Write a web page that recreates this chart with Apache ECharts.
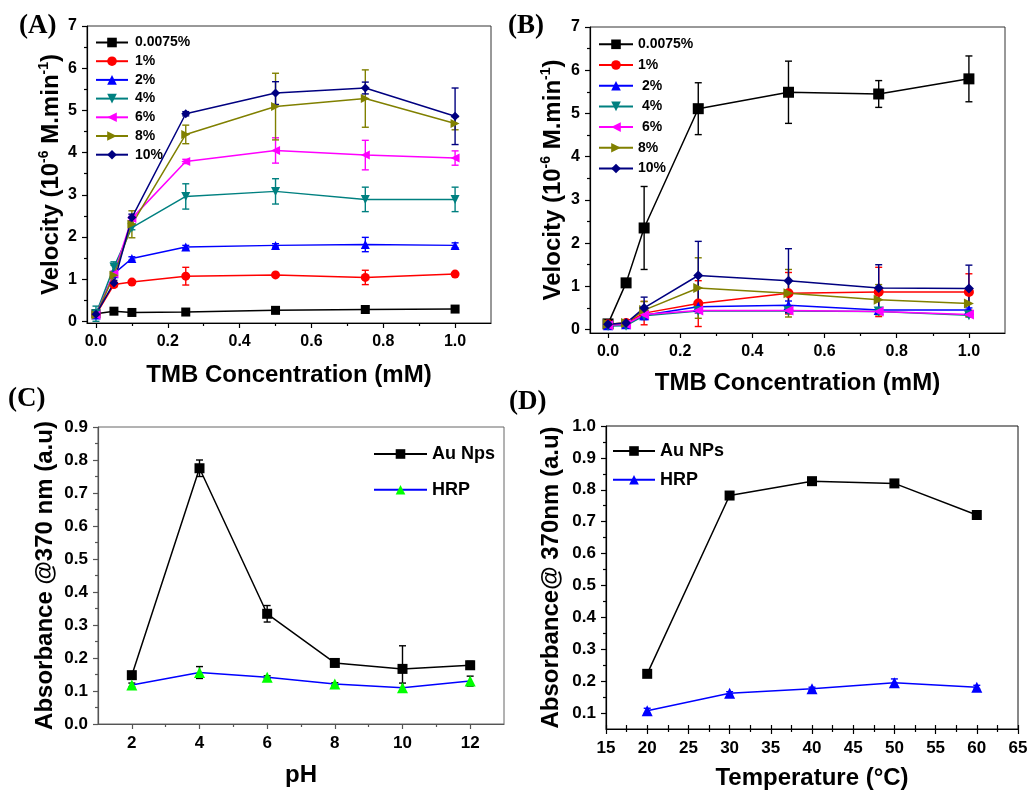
<!DOCTYPE html>
<html><head><meta charset="utf-8">
<script src="https://cdn.jsdelivr.net/npm/echarts@6/dist/echarts.min.js"></script>
<style>html,body{margin:0;padding:0;background:#fff}#c{width:1031px;height:792px}</style>
</head><body><div id="c"></div><script>
// ---------------- DATA ----------------
const xConc = [0, 0.05, 0.1, 0.25, 0.5, 0.75, 1.0];
const aNames = ['0.0075%', '1%', '2%', '4%', '6%', '8%', '10%'];
const bNames = ['0.0075%', '1%', ' 2%', ' 4%', ' 6%', '8%', '10%'];
// Panel A values and errors
const aV0075 = [0.18, 0.24, 0.21, 0.22, 0.26, 0.28, 0.29];
const aE0075 = [0.04, 0.07, 0.03, 0.03, 0.05, 0.06, 0.04];
const aV1 = [0.16, 0.87, 0.93, 1.07, 1.10, 1.04, 1.12];
const aE1 = [0.03, 0.05, 0.03, 0.21, 0.03, 0.17, 0.03];
const aV2 = [0.15, 1.13, 1.49, 1.76, 1.80, 1.82, 1.80];
const aE2 = [0.03, 0.05, 0.04, 0.04, 0.04, 0.17, 0.06];
const aV4 = [0.18, 1.29, 2.22, 2.96, 3.08, 2.89, 2.89];
const aE4 = [0.18, 0.12, 0.05, 0.30, 0.30, 0.29, 0.29];
const aV6 = [0.15, 1.13, 2.44, 3.79, 4.05, 3.94, 3.87];
const aE6 = [0.03, 0.06, 0.05, 0.05, 0.30, 0.35, 0.17];
const aV8 = [0.15, 1.09, 2.30, 4.43, 5.09, 5.28, 4.69];
const aE8 = [0.03, 0.24, 0.32, 0.22, 0.79, 0.68, 0.15];
const aV10 = [0.17, 0.91, 2.46, 4.92, 5.41, 5.53, 4.86];
const aE10 = [0.03, 0.06, 0.08, 0.05, 0.27, 0.14, 0.67];
// Panel B values and errors
const bV0075 = [0.13, 1.08, 2.35, 5.11, 5.49, 5.45, 5.80];
const bE0075 = [0.05, 0.05, 0.96, 0.60, 0.72, 0.31, 0.53];
const bV1 = [0.12, 0.15, 0.38, 0.60, 0.84, 0.87, 0.87];
const bE1 = [0.04, 0.05, 0.27, 0.53, 0.48, 0.57, 0.42];
const bV2 = [0.10, 0.12, 0.33, 0.53, 0.56, 0.45, 0.45];
const bE2 = [0.03, 0.04, 0.10, 0.08, 0.10, 0.05, 0.05];
const bV4 = [0.08, 0.09, 0.32, 0.43, 0.43, 0.42, 0.33];
const bE4 = [0.03, 0.04, 0.08, 0.05, 0.05, 0.05, 0.04];
const bV6 = [0.10, 0.12, 0.35, 0.44, 0.44, 0.42, 0.35];
const bE6 = [0.03, 0.04, 0.08, 0.05, 0.05, 0.05, 0.04];
const bV8 = [0.13, 0.15, 0.45, 0.96, 0.84, 0.69, 0.60];
const bE8 = [0.04, 0.05, 0.20, 0.70, 0.55, 0.35, 0.30];
const bV10 = [0.12, 0.15, 0.50, 1.25, 1.13, 0.96, 0.95];
const bE10 = [0.04, 0.05, 0.25, 0.79, 0.74, 0.54, 0.54];
// Panel C
const xPH = [2, 4, 6, 8, 10, 12];
const cNames = ['Au Nps', 'HRP'];
const cAu = [0.148, 0.775, 0.334, 0.185, 0.167, 0.178];
const cAuErr = [0.010, 0.025, 0.025, 0.010, 0.070, 0.012];
const cHRP = [0.118, 0.156, 0.142, 0.121, 0.110, 0.130];
const cHRPErr = [0.006, 0.018, 0.004, 0.004, 0.014, 0.015];
// Panel D
const xTemp = [20, 30, 40, 50, 60];
const dNames = ['Au NPs', 'HRP '];
const dAu = [0.223, 0.782, 0.827, 0.820, 0.721];
const dAuErr = [0.008, 0.006, 0.005, 0.006, 0.008];
const dHRP = [0.107, 0.162, 0.176, 0.195, 0.181];
const dHRPErr = [0.008, 0.005, 0.005, 0.012, 0.006];
// Tick values
const aXTicks = [0, 0.2, 0.4, 0.6, 0.8, 1.0];
const aXMinor = [0.1, 0.3, 0.5, 0.7, 0.9];
const aYTicks = [0, 1, 2, 3, 4, 5, 6, 7];
const aYMinor = [0.5, 1.5, 2.5, 3.5, 4.5, 5.5, 6.5];
const cXTicks = [2, 4, 6, 8, 10, 12];
const cXMinor = [3, 5, 7, 9, 11];
const cYTicks = [0, 0.1, 0.2, 0.3, 0.4, 0.5, 0.6, 0.7, 0.8, 0.9];
const cYMinor = [0.05, 0.15, 0.25, 0.35, 0.45, 0.55, 0.65, 0.75, 0.85];
const dXTicks = [15, 20, 25, 30, 35, 40, 45, 50, 55, 60, 65];
const dXMinor = [17.5, 22.5, 27.5, 32.5, 37.5, 42.5, 47.5, 52.5, 57.5, 62.5];
const dYTicks = [0.1, 0.2, 0.3, 0.4, 0.5, 0.6, 0.7, 0.8, 0.9, 1.0];
const dYMinor = [0.15, 0.25, 0.35, 0.45, 0.55, 0.65, 0.75, 0.85, 0.95];

// ---------------- BUILD ----------------
const FONT = '"Liberation Sans", Arial, sans-serif';
const aVals = [aV0075, aV1, aV2, aV4, aV6, aV8, aV10];
const aErrs = [aE0075, aE1, aE2, aE4, aE6, aE8, aE10];
const bVals = [bV0075, bV1, bV2, bV4, bV6, bV8, bV10];
const bErrs = [bE0075, bE1, bE2, bE4, bE6, bE8, bE10];
const sty = [
  {c: '#000000', s: 'rect', r: 0, z: 9},
  {c: '#ff0000', s: 'circle', r: 0, z: 10},
  {c: '#0000ff', s: 'triangle', r: 0, z: 10},
  {c: '#008080', s: 'triangle', r: 180, z: 10},
  {c: '#ff00ff', s: 'triangle', r: 90, z: 10},
  {c: '#808000', s: 'triangle', r: -90, z: 10},
  {c: '#000080', s: 'diamond', r: 0, z: 10}
];

function errRender(cap) {
  return function (params, api) {
    const x = api.value(0), y = api.value(1), e = api.value(2);
    const lo = api.coord([x, y - e]), hi = api.coord([x, y + e]);
    const st = {stroke: api.visual('color'), lineWidth: 1.4};
    return {type: 'group', children: [
      {type: 'line', shape: {x1: lo[0], y1: lo[1], x2: hi[0], y2: hi[1]}, style: st},
      {type: 'line', shape: {x1: lo[0] - cap, y1: lo[1], x2: lo[0] + cap, y2: lo[1]}, style: st},
      {type: 'line', shape: {x1: hi[0] - cap, y1: hi[1], x2: hi[0] + cap, y2: hi[1]}, style: st}
    ]};
  };
}

const series = [];
function addPanel(g, xs, names, vals, errs, styles, size, cap) {
  names.forEach((n, i) => {
    const st = styles[i];
    series.push({
      type: 'line', name: n, xAxisIndex: g, yAxisIndex: g,
      data: xs.map((x, k) => [x, vals[i][k]]),
      symbol: st.s, symbolRotate: st.r, symbolSize: st.size || size,
      lineStyle: {color: st.lc || st.c, width: 1.5},
      itemStyle: {color: st.c},
      z: st.z || 10, animation: false
    });
    series.push({
      type: 'custom', xAxisIndex: g, yAxisIndex: g,
      itemStyle: {color: st.ec || st.c},
      data: xs.map((x, k) => [x, vals[i][k], errs[i][k]]),
      renderItem: errRender(cap), encode: {x: 0, y: 1},
      z: st.z || 10, animation: false, silent: true
    });
  });
}
addPanel(0, xConc, aNames, aVals, aErrs, sty, 9, 3.5);
addPanel(1, xConc, bNames, bVals, bErrs, sty.map((s, i) => i === 0 ? Object.assign({}, s, {size: 11}) : s), 10, 3.5);
addPanel(2, xPH, cNames, [cAu, cHRP], [cAuErr, cHRPErr],
  [{c: '#000000', s: 'rect', r: 0, size: 10}, {c: '#00ff00', lc: '#0000ff', ec: '#000000', s: 'triangle', r: 0, size: 11}], 10, 3.5);
addPanel(3, xTemp, dNames, [dAu, dHRP], [dAuErr, dHRPErr],
  [{c: '#000000', s: 'rect', r: 0, size: 10}, {c: '#0000ff', s: 'triangle', r: 0, size: 11}], 10, 3.5);

const fmt1 = v => (+v).toFixed(1);
const fmt0 = v => String(Math.round(v));
const nameStyle = {fontSize: 24, fontWeight: 'bold', fontFamily: FONT, color: '#000'};
const richName = {
  r: {fontSize: 24, fontWeight: 'bold', fontFamily: FONT, color: '#000', lineHeight: 26, verticalAlign: 'bottom'},
  s: {fontSize: 14, fontWeight: 'bold', fontFamily: FONT, color: '#000', lineHeight: 14, verticalAlign: 'top'}
};

const xAxes = [], yAxes = [];
function mkAxis(o) {
  const col = o.color || '#000';
  const out = [];
  out.push({
    type: 'value', gridIndex: o.g, position: o.pos, min: o.min, max: o.max,
    axisLine: {show: true, onZero: false, lineStyle: {color: col, width: 1.2}},
    axisTick: {show: true, length: 5, inside: false, customValues: o.ticks, lineStyle: {color: col, width: 1.2}},
    axisLabel: {show: true, customValues: o.ticks, formatter: o.fmt, margin: o.margin, color: '#000',
      fontSize: o.fs, fontWeight: 'bold', fontFamily: FONT},
    splitLine: {show: false}, minorTick: {show: false},
    name: o.name, nameLocation: 'middle', nameGap: o.gap,
    nameTextStyle: o.rich ? Object.assign({}, nameStyle, {rich: richName}) : nameStyle
  });
  out.push({
    type: 'value', gridIndex: o.g, position: o.pos, min: o.min, max: o.max,
    axisLine: {show: false, onZero: false},
    axisTick: {show: true, length: 3, inside: false, customValues: o.minor, lineStyle: {color: col, width: 1.2}},
    axisLabel: {show: false}, splitLine: {show: false}
  });
  if (o.cross) {
    out.push({
      type: 'value', gridIndex: o.g, position: o.pos, min: o.min, max: o.max,
      axisLine: {show: false, onZero: false},
      axisTick: {show: true, length: 4, inside: true, customValues: o.ticks.concat(o.minor), lineStyle: {color: col, width: 1.2}},
      axisLabel: {show: false}, splitLine: {show: false}
    });
  }
  return out;
}
const ax = [
  mkAxis({g: 0, pos: 'bottom', min: -0.025, max: 1.1, ticks: aXTicks, minor: aXMinor, fmt: fmt1, name: 'TMB Concentration (mM)', gap: 40, margin: 11, fs: 16}),
  mkAxis({g: 1, pos: 'bottom', min: -0.05, max: 1.1, ticks: aXTicks, minor: aXMinor, fmt: fmt1, name: 'TMB Concentration (mM)', gap: 38, margin: 11, fs: 16}),
  mkAxis({g: 2, pos: 'bottom', min: 1, max: 13, ticks: cXTicks, minor: cXMinor, fmt: fmt0, name: 'pH', gap: 39, margin: 11, fs: 17, color: '#555'}),
  mkAxis({g: 3, pos: 'bottom', min: 15, max: 65, ticks: dXTicks, minor: dXMinor, fmt: fmt0, name: 'Temperature (°C)', gap: 37, margin: 11, fs: 17, cross: true})
];
const ay = [
  mkAxis({g: 0, pos: 'left', min: -0.04, max: 7, ticks: aYTicks, minor: aYMinor, fmt: fmt0, name: '{r|Velocity (10}{s|-6}{r| M.min}{s|-1}{r|)}', gap: 24, margin: 10, fs: 16, rich: true}),
  mkAxis({g: 1, pos: 'left', min: -0.08, max: 7, ticks: aYTicks, minor: aYMinor, fmt: fmt0, name: '{r|Velocity (10}{s|-6}{r| M.min}{s|-1}{r|)}', gap: 25, margin: 10, fs: 16, rich: true}),
  mkAxis({g: 2, pos: 'left', min: 0, max: 0.9, ticks: cYTicks, minor: cYMinor, fmt: fmt1, name: 'Absorbance @370 nm (a.u)', gap: 41, margin: 10, fs: 17, color: '#555'}),
  mkAxis({g: 3, pos: 'left', min: 0.05, max: 1.0, ticks: dYTicks, minor: dYMinor, fmt: fmt1, name: 'Absorbance@ 370nm (a.u)', gap: 43, margin: 10, fs: 17})
];
ax.forEach(p => xAxes.push(p[0]));
ay.forEach(p => yAxes.push(p[0]));
ax.forEach(p => p.slice(1).forEach(a => xAxes.push(a)));
ay.forEach(p => p.slice(1).forEach(a => yAxes.push(a)));

const gridBase = {show: true, borderWidth: 1, backgroundColor: 'transparent', outerBoundsMode: 'none', containLabel: false};
const grids = [
  Object.assign({left: 87, top: 26, width: 404, height: 297, borderColor: '#333'}, gridBase),
  Object.assign({left: 590, top: 27, width: 415, height: 306, borderColor: '#333'}, gridBase),
  Object.assign({left: 98, top: 427, width: 406, height: 297, borderColor: '#666'}, gridBase),
  Object.assign({left: 606, top: 426, width: 412, height: 303, borderColor: '#111'}, gridBase)
];
const legText = s => ({fontSize: s, fontWeight: 'bold', fontFamily: FONT, color: '#000'});
const legends = [
  {left: 95, top: 35.5, orient: 'vertical', itemWidth: 32, itemHeight: 12, itemGap: 4.7, data: aNames, textStyle: Object.assign(legText(14), {padding: [0, 0, 0, 2]})},
  {left: 598, top: 37.3, orient: 'vertical', itemWidth: 34, itemHeight: 12, itemGap: 6.7, data: bNames, textStyle: legText(14)},
  {left: 373, top: 445, orient: 'vertical', itemWidth: 53, itemHeight: 12, itemGap: 17.7, data: cNames, textStyle: legText(18)},
  {left: 612, top: 442, orient: 'vertical', itemWidth: 42, itemHeight: 12, itemGap: 10.7, data: dNames, textStyle: legText(18)}
];
legends.forEach(l => { l.selectedMode = false; l.padding = 0; });

const panelFont = 'bold 27px "Liberation Serif", "Times New Roman", serif';
const chart = echarts.init(document.getElementById('c'), null, {renderer: 'canvas'});
chart.setOption({
  animation: false,
  backgroundColor: '#fff',
  textStyle: {fontFamily: FONT},
  grid: grids,
  xAxis: xAxes,
  yAxis: yAxes,
  legend: legends,
  series: series,
  graphic: [
    {type: 'text', left: 19, top: 13, style: {text: '(A)', font: panelFont, fill: '#000'}},
    {type: 'text', left: 508, top: 13, style: {text: '(B)', font: panelFont, fill: '#000'}},
    {type: 'text', left: 8, top: 386, style: {text: '(C)', font: panelFont, fill: '#000'}},
    {type: 'text', left: 509, top: 389, style: {text: '(D)', font: panelFont, fill: '#000'}}
  ]
});
</script></body></html>
